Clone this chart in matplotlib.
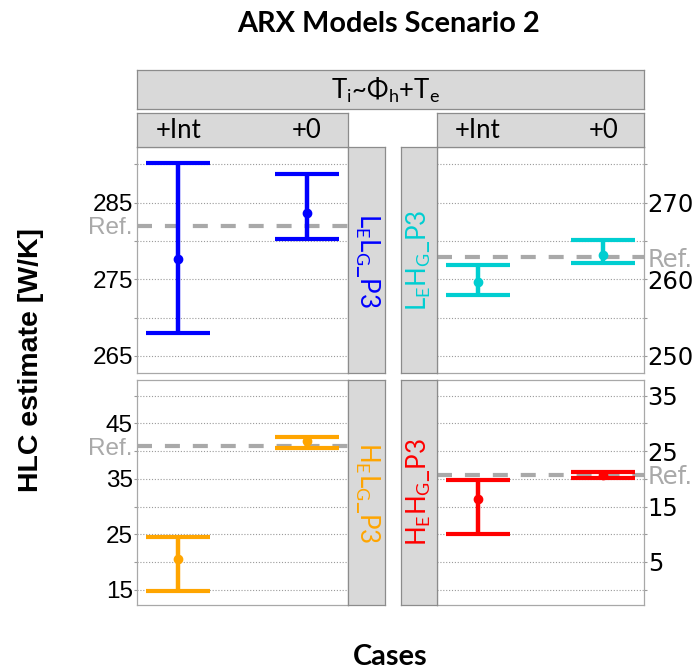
import matplotlib
matplotlib.use("Agg")
import matplotlib.pyplot as plt

# ---- data -------------------------------------------------------------
cases = ["+Int", "+0"]

lelg_est = [277.7, 283.65]
lelg_lo = [268.0, 280.3]
lelg_hi = [290.2, 288.8]
lelg_ref = 282.0

lehg_est = [259.6, 263.2]
lehg_lo = [258.0, 262.1]
lehg_hi = [261.9, 265.1]
lehg_ref = 262.9

helg_est = [20.5, 41.8]
helg_lo = [14.8, 40.5]
helg_hi = [24.5, 42.5]
helg_ref = 40.85

hehg_est = [16.3, 20.7]
hehg_lo = [10.0, 20.2]
hehg_hi = [19.7, 21.2]
hehg_ref = 20.7

# grid breaks and labelled breaks for each panel
lelg_grid = [265, 270, 275, 280, 285, 290]
lelg_labels = [265, 275, 285]
lehg_grid = [250, 255, 260, 265, 270, 275]
lehg_labels = [250, 260, 270]
helg_grid = [15, 20, 25, 30, 35, 40, 45, 50]
helg_labels = [15, 25, 35, 45]
hehg_grid = [0, 5, 10, 15, 20, 25, 30, 35]
hehg_labels = [5, 15, 25, 35]

model_title = "ARX Models Scenario 2"
formula_label = r"$\mathregular{T_i}$~$\mathregular{\Phi_h}$+$\mathregular{T_e}$"

# ---- figure -----------------------------------------------------------
W, H = 693, 672
fig = plt.figure(figsize=(W / 100, H / 100), dpi=100)

STRIP_FILL = "#D9D9D9"
STRIP_EDGE = "#8C8C8C"
PANEL_EDGE = "#A8A8A8"
GRID_COL = "#9A9A9A"
REF_COL = "#A9A9A9"
TICK_FONT = "Liberation Sans"
TICK_SIZE = 17.5
STRIP_FONT = "Lato"
STRIP_SIZE = 18.5


def px_axes(x0, y0, x1, y1):
    return fig.add_axes([x0 / W, 1 - y1 / H, (x1 - x0) / W, (y1 - y0) / H])


def strip(x0, y0, x1, y1):
    ax = px_axes(x0, y0, x1, y1)
    ax.set_facecolor(STRIP_FILL)
    ax.set_xticks([])
    ax.set_yticks([])
    for s in ax.spines.values():
        s.set_color(STRIP_EDGE)
        s.set_linewidth(0.9)
    return ax


def panel(box, est, lo, hi, ref, color, grid, labelled, ylim, side, top_ticks):
    ax = px_axes(*box)
    x = list(range(1, len(cases) + 1))
    ax.set_xlim(0.68, 2.32)
    ax.set_ylim(*ylim)
    # dotted grid at every break
    ax.set_yticks(grid)
    ax.set_yticklabels([str(v) if v in labelled else "" for v in grid])
    ax.grid(axis="y", which="major", color=GRID_COL, linestyle=(0, (1, 1.6)), linewidth=0.8)
    ax.set_yticks([ref], minor=True)
    ax.set_yticklabels(["Ref."], minor=True)
    ax.tick_params(axis="y", which="major", length=2, width=0.8, color=GRID_COL,
                   labelsize=TICK_SIZE, pad=1)
    ax.tick_params(axis="y", which="minor", length=0, labelsize=TICK_SIZE, pad=3,
                   labelcolor=REF_COL)
    for lab in ax.get_yticklabels() + ax.get_yticklabels(minor=True):
        lab.set_fontfamily(TICK_FONT)
    if side == "right":
        ax.yaxis.tick_right()
        ax.tick_params(axis="y", which="both", left=False, labelleft=False,
                       right=True, labelright=True)
    # x axis: only short ticks on top for the upper row
    ax.xaxis.tick_top()
    ax.set_xticks(x)
    ax.set_xticklabels([])
    ax.tick_params(axis="x", length=3 if top_ticks else 0, width=0.8, color="#555555")
    for s in ax.spines.values():
        s.set_color(PANEL_EDGE)
        s.set_linewidth(0.9)
    # reference line
    ax.axhline(ref, color=REF_COL, linewidth=3, linestyle=(0, (3.6, 3.1)), zorder=2)
    # error bars with point estimate
    yerr = [[e - l for e, l in zip(est, lo)], [h - e for e, h in zip(est, hi)]]
    ax.errorbar(x, est, yerr=yerr, fmt="o", color=color, ecolor=color,
                elinewidth=3.2, capsize=23, capthick=3.0, markersize=6, zorder=3)
    return ax


left_cols = (137, 348.3)
right_cols = (437.3, 643.5)
top_row = (147.3, 373.3)
bot_row = (380, 605)

panel((left_cols[0], top_row[0], left_cols[1], top_row[1]), lelg_est, lelg_lo, lelg_hi,
      lelg_ref, "#0000FF", lelg_grid, lelg_labels, (262.73, 292.23), "left", True)
panel((right_cols[0], top_row[0], right_cols[1], top_row[1]), lehg_est, lehg_lo, lehg_hi,
      lehg_ref, "#00CED1", lehg_grid, lehg_labels, (247.73, 277.23), "right", True)
panel((left_cols[0], bot_row[0], left_cols[1], bot_row[1]), helg_est, helg_lo, helg_hi,
      helg_ref, "#FFA500", helg_grid, helg_labels, (12.24, 52.83), "left", False)
panel((right_cols[0], bot_row[0], right_cols[1], bot_row[1]), hehg_est, hehg_lo, hehg_hi,
      hehg_ref, "#FF0000", hehg_grid, hehg_labels, (-2.76, 37.83), "right", False)

# ---- strips -----------------------------------------------------------
top = strip(136.7, 70, 644, 109.3)
top.text(0.49, 0.47, formula_label, transform=top.transAxes, ha="center", va="center",
         fontsize=STRIP_SIZE, fontfamily=STRIP_FONT)

for (c0, c1) in (left_cols, (437.3, 644)):
    s = strip(c0, 113.3, c1, 147.3)
    s.set_xlim(0.68, 2.32)
    for i, name in enumerate(cases):
        s.text(i + 1, 0.5, name, transform=s.get_xaxis_transform(), ha="center",
               va="center", fontsize=STRIP_SIZE, fontfamily=STRIP_FONT)

side_labels = [
    ((348.3, 385), top_row, r"$\mathregular{L_EL_G\_P3}$", "#0000FF", -90),
    ((400.7, 437.3), top_row, r"$\mathregular{L_EH_G\_P3}$", "#00CED1", 90),
    ((348.3, 385), bot_row, r"$\mathregular{H_EL_G\_P3}$", "#FFA500", -90),
    ((400.7, 437.3), bot_row, r"$\mathregular{H_EH_G\_P3}$", "#FF0000", 90),
]
for (x0, x1), (y0, y1), text, col, rot in side_labels:
    s = strip(x0, y0, x1, y1)
    s.text(0.5, 0.5, text, transform=s.transAxes, ha="center", va="center",
           rotation=rot, color=col, fontsize=STRIP_SIZE, fontfamily=STRIP_FONT)

# ---- titles -----------------------------------------------------------
fig.text(389 / W, 1 - 24 / H, model_title, ha="center", va="center",
         fontsize=20.8, fontweight="bold", fontfamily=STRIP_FONT)
fig.text(390 / W, 1 - 657 / H, "Cases", ha="center", va="center",
         fontsize=20.8, fontweight="bold", fontfamily=STRIP_FONT)
fig.text(31 / W, 1 - 360 / H, "HLC estimate [W/K]", ha="center", va="center",
         rotation=90, fontsize=20.5, fontweight="bold", fontfamily=TICK_FONT)

fig.savefig("out.png", dpi=100)
